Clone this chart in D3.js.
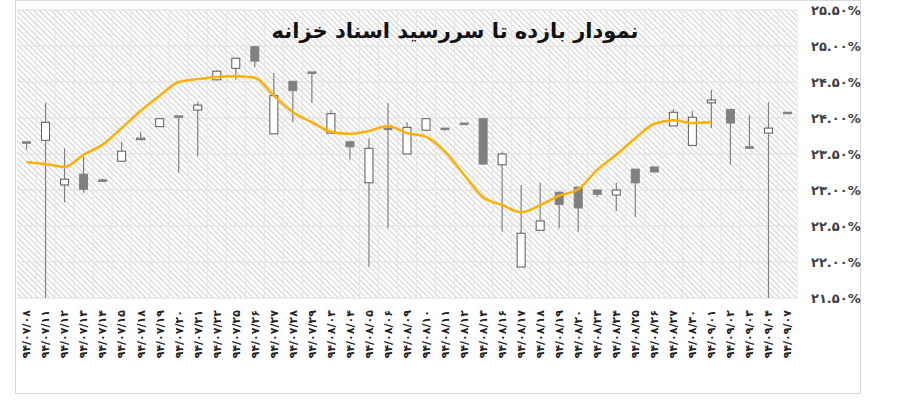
<!DOCTYPE html><html><head><meta charset="utf-8"><script src="https://cdn.jsdelivr.net/npm/d3@7"></script>
<style>body{margin:0;background:#fff}</style></head><body><svg id="c" width="900" height="403"></svg>
<script>
const dates=["۹۴/۰۷/۰۸","۹۴/۰۷/۱۱","۹۴/۰۷/۱۲","۹۴/۰۷/۱۳","۹۴/۰۷/۱۴","۹۴/۰۷/۱۵","۹۴/۰۷/۱۸","۹۴/۰۷/۱۹","۹۴/۰۷/۲۰","۹۴/۰۷/۲۱","۹۴/۰۷/۲۲","۹۴/۰۷/۲۵","۹۴/۰۷/۲۶","۹۴/۰۷/۲۷","۹۴/۰۷/۲۸","۹۴/۰۷/۲۹","۹۴/۰۸/۰۳","۹۴/۰۸/۰۴","۹۴/۰۸/۰۵","۹۴/۰۸/۰۶","۹۴/۰۸/۰۹","۹۴/۰۸/۱۰","۹۴/۰۸/۱۱","۹۴/۰۸/۱۲","۹۴/۰۸/۱۳","۹۴/۰۸/۱۶","۹۴/۰۸/۱۷","۹۴/۰۸/۱۸","۹۴/۰۸/۱۹","۹۴/۰۸/۲۰","۹۴/۰۸/۲۳","۹۴/۰۸/۲۴","۹۴/۰۸/۲۵","۹۴/۰۸/۲۶","۹۴/۰۸/۲۷","۹۴/۰۸/۳۰","۹۴/۰۹/۰۱","۹۴/۰۹/۰۲","۹۴/۰۹/۰۳","۹۴/۰۹/۰۴","۹۴/۰۹/۰۷"];
const open =[23.67,23.69,23.07,23.22,23.14,23.40,23.72,23.88,24.03,24.11,24.53,24.69,24.99,23.78,24.51,24.64,23.79,23.67,23.10,23.86,23.50,23.83,23.86,23.93,23.99,23.35,21.93,22.44,22.97,23.04,23.00,22.93,23.29,23.32,23.89,23.62,24.21,24.12,23.60,23.79,24.08];
const close=[23.66,23.94,23.15,23.01,23.13,23.54,23.72,23.99,24.02,24.18,24.65,24.83,24.79,24.31,24.38,24.63,24.06,23.60,23.58,23.85,23.87,23.99,23.85,23.92,23.36,23.50,22.40,22.57,22.80,22.75,22.94,23.00,23.10,23.25,24.08,24.01,24.25,23.93,23.59,23.86,24.07];
const high =[23.67,24.21,23.58,23.46,23.16,23.67,23.81,23.99,24.03,24.22,24.66,24.84,24.99,24.63,24.51,24.64,24.11,23.67,23.72,24.21,23.94,23.99,23.86,23.93,23.99,23.53,23.07,23.10,22.97,23.04,23.00,23.10,23.29,23.32,24.12,24.10,24.39,24.12,24.04,24.22,24.08];
const low  =[23.56,21.50,22.83,22.96,23.12,23.40,23.72,23.88,23.24,23.47,24.53,24.53,24.71,23.78,23.94,24.21,23.79,23.42,21.93,22.47,23.50,23.83,23.82,23.93,23.36,22.42,21.93,22.44,22.47,22.42,22.90,22.71,22.62,23.25,23.89,23.62,23.86,23.35,23.59,21.50,24.07];
const avg  =[23.39,23.36,23.32,23.49,23.63,23.86,24.10,24.31,24.50,24.54,24.57,24.58,24.56,24.31,24.08,23.94,23.81,23.78,23.82,23.89,23.79,23.74,23.53,23.21,22.90,22.79,22.69,22.79,22.92,23.01,23.28,23.49,23.72,23.92,23.97,23.93,23.94];
const yTicks=[21.5,22,22.5,23,23.5,24,24.5,25,25.5];
const fa=s=>s.replace(/\d/g,d=>"۰۱۲۳۴۵۶۷۸۹"[d]);
const svg=d3.select("#c");
const L=17,R=797,T=10,B=298;
svg.append("rect").attr("x",15.5).attr("y",0.5).attr("width",845).attr("height",393).attr("fill","#fff").attr("stroke","#d9d9d9");
const defs=svg.append("defs");
const p=defs.append("pattern").attr("id","h").attr("width",4).attr("height",4).attr("patternUnits","userSpaceOnUse").attr("patternTransform","rotate(-45)");
p.append("rect").attr("width",4).attr("height",4).attr("fill","#fff");
p.append("line").attr("x1",0).attr("y1",0).attr("x2",0).attr("y2",4).attr("stroke","#c4c4c4").attr("stroke-width",1.6);
svg.append("rect").attr("x",L).attr("y",T).attr("width",R-L).attr("height",B-T).attr("fill","url(#h)");
const x=d3.scaleBand().domain(dates).range([L,R]);
const y=d3.scaleLinear().domain([21.5,25.5]).range([B,T]);
const g=svg.append("g");
yTicks.forEach(t=>g.append("line").attr("x1",L).attr("x2",R).attr("y1",y(t)).attr("y2",y(t)).attr("stroke","#e6e6e6").attr("stroke-width",1.5));
dates.forEach((d,i)=>g.append("line").attr("x1",x(d)+x.bandwidth()).attr("x2",x(d)+x.bandwidth()).attr("y1",T).attr("y2",B).attr("stroke","#e6e6e6"));
const yA=svg.append("g").attr("transform",`translate(${R},0)`).call(d3.axisRight(y).tickValues(yTicks).tickSize(0).tickPadding(14).tickFormat(v=>fa(v.toFixed(2))+"%"));
yA.select(".domain").remove();
yA.selectAll("text").attr("font-family","DejaVu Sans").attr("font-weight","bold").attr("font-size",13).attr("fill","#404040");
const xA=svg.append("g").attr("transform",`translate(0,${B})`).call(d3.axisBottom(x).tickSize(0).tickPadding(0));
xA.select(".domain").remove();
xA.selectAll("text").attr("font-family","DejaVu Sans").attr("font-weight","bold").attr("font-size",11).attr("fill","#222")
  .attr("transform","rotate(-90)").attr("text-anchor","end").attr("dx","-12").attr("dy","0.35em").attr("y",0);
const cx=i=>x(dates[i])+x.bandwidth()/2;
dates.forEach((d,i)=>{
  g.append("line").attr("x1",cx(i)).attr("x2",cx(i)).attr("y1",y(high[i])).attr("y2",y(low[i])).attr("stroke","#808080").attr("stroke-width",1.2);
  const up=close[i]>=open[i];
  const t=y(Math.max(open[i],close[i])),b=y(Math.min(open[i],close[i]));
  g.append("rect").attr("x",cx(i)-4).attr("width",8).attr("y",t).attr("height",Math.max(b-t,1.5))
    .attr("fill",up?"#fff":"#808080").attr("stroke",up?"#595959":"#808080").attr("stroke-width",1);
});
g.append("path").datum(avg).attr("fill","none").attr("stroke","#FFB000").attr("stroke-width",2.5)
 .attr("d",d3.line().x((v,i)=>cx(i)).y(v=>y(v)).curve(d3.curveMonotoneX));
svg.append("text").attr("x",455).attr("y",38).attr("text-anchor","middle").attr("font-family","DejaVu Sans").attr("font-weight","bold").attr("font-size",21).attr("fill","#111").text("نمودار بازده تا سررسید اسناد خزانه");
</script></body></html>
